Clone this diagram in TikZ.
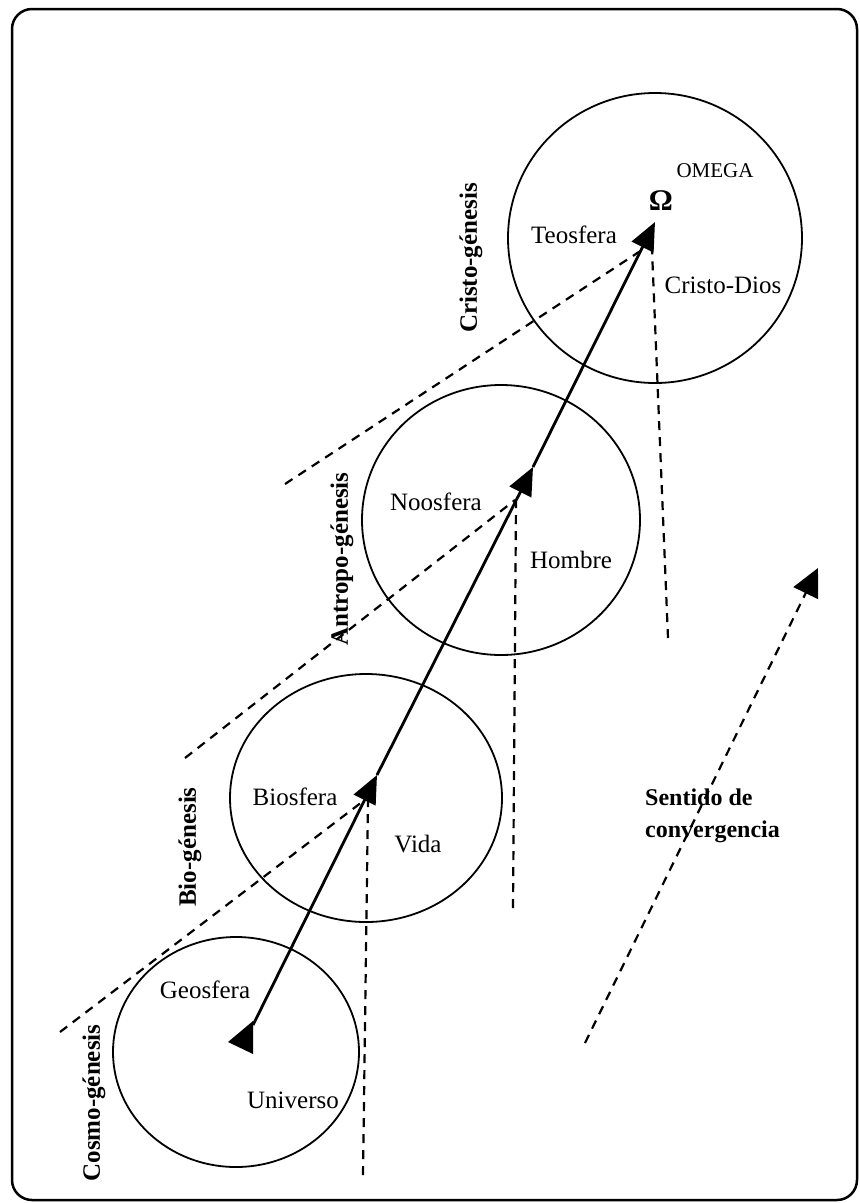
\documentclass[tikz,border=0pt]{standalone}
\usepackage{fontspec}
\setmainfont{Liberation Serif}
\usetikzlibrary{arrows.meta,shapes.geometric}
\begin{document}
\begin{tikzpicture}[x=1pt,y=-1pt,
  sphere/.style={ellipse,draw,line width=1.8pt,inner sep=0pt},
  lbl/.style={font=\fontsize{25}{30}\selectfont,inner sep=0pt,anchor=base},
  gen/.style={font=\bfseries\fontsize{25}{30}\selectfont,rotate=90,inner sep=0pt},
  sent/.style={font=\bfseries\fontsize{24}{28}\selectfont,inner sep=0pt,anchor=base west},
  solidarrow/.style={line width=2.8pt,-{Triangle[length=28pt,width=24pt]}},
  dashline/.style={line width=2.2pt,dash pattern=on 9pt off 7pt},
  frame/.style={line width=2.5pt,rounded corners=20pt}
]
\useasboundingbox (0,0) rectangle (860,1203);
\draw[frame] (12,9) rectangle (857,1200);

% spheres
\node[sphere,minimum width=246pt,minimum height=230pt] (geo) at (236,1052) {};
\node[sphere,minimum width=272pt,minimum height=248pt] (bio) at (366,798) {};
\node[sphere,minimum width=278pt,minimum height=270pt] (noo) at (501,520) {};
\node[sphere,minimum width=294pt,minimum height=290pt] (teo) at (655,238) {};

% key points
\coordinate (p0) at (253,1025);
\coordinate (p1) at (377,775);
\coordinate (p2) at (533,467);
\coordinate (p3) at (655,222);
\coordinate (t1) at (228,1042);
\coordinate (t2) at (253,1021);
\coordinate (t3) at (253,1054);

% dashed verticals
\coordinate (v1a) at (363,1175); \coordinate (v1b) at (368,801);
\coordinate (v2a) at (513,908);  \coordinate (v2b) at (516,502);
\coordinate (v3a) at (668,638);  \coordinate (v3b) at (652,250);
\draw[dashline] (v1a) -- (v1b);
\draw[dashline] (v2a) -- (v2b);
\draw[dashline] (v3a) -- (v3b);

% dashed diagonals
\coordinate (d1a) at (60,1032);  \coordinate (d1b) at (362,802);
\coordinate (d2a) at (185,758);  \coordinate (d2b) at (515,500);
\coordinate (d3a) at (285,484);  \coordinate (d3b) at (648,246);
\draw[dashline] (d1a) -- (d1b);
\draw[dashline] (d2a) -- (d2b);
\draw[dashline] (d3a) -- (d3b);

% convergence arrow
\coordinate (sa) at (585,1043);
\coordinate (sb) at (818,568);
\draw[dashline,-{Triangle[length=28pt,width=27pt]}] (sa) -- (sb);

% solid arrows
\fill (t1) -- (t2) -- (t3) -- cycle;
\draw[solidarrow] (p0) -- (p1);
\draw[solidarrow] (p1) -- (p2);
\draw[solidarrow] (p2) -- (p3);

% labels
\node[lbl] (lgeo) at (205,998) {Geosfera};
\node[lbl] (luni) at (293,1108) {Universo};
\node[lbl] (lbio) at (295,805) {Biosfera};
\node[lbl] (lvida) at (418,852) {Vida};
\node[lbl] (lnoo) at (436,510) {Noosfera};
\node[lbl] (lhom) at (571,568) {Hombre};
\node[lbl] (lteo) at (574,243) {Teosfera};
\node[lbl] (lcd) at (723,293) {Cristo-Dios};
\node[lbl,font=\fontsize{21}{25}\selectfont] (lome) at (715,177) {OMEGA};
\node[lbl,font=\bfseries\fontsize{30}{36}\selectfont] (lomg) at (661,210) {Ω};

\node[gen] (gcr) at (471,258) {Cristo-génesis};
\node[gen] (gan) at (342,559) {Antropo-génesis};
\node[gen] (gbi) at (190,847) {Bio-génesis};
\node[gen] (gco) at (94,1103) {Cosmo-génesis};

\node[sent] (s1) at (645,805) {Sentido de};
\node[sent] (s2) at (645,837) {convergencia};
\end{tikzpicture}
\end{document}
